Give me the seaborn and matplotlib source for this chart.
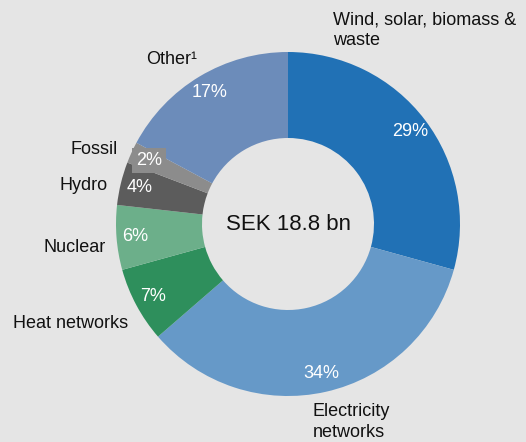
import matplotlib
matplotlib.use("Agg")
import matplotlib.pyplot as plt
import seaborn as sns

# data, clockwise from 12 o'clock
segments = ["Wind, solar, biomass &\nwaste", "Electricity\nnetworks", "Heat networks",
            "Nuclear", "Hydro", "Fossil", "Other\u00b9"]
shares = [29, 34, 7, 6, 4, 2, 17]
colors = ["#2171b5", "#6699c8", "#2e8f5c", "#6caf8a", "#5c5c5c", "#8c8c8c", "#6c8cba"]
total_label = "SEK 18.8 bn"

sns.set_theme(style="white")
plt.rcParams["font.family"] = ["Liberation Sans", "DejaVu Sans"]
bg = "#e5e5e5"

fig = plt.figure(figsize=(5.26, 4.42), dpi=100, facecolor=bg)
ax = fig.add_axes([0, 0, 1, 1])
ax.set_facecolor(bg)

# pie centre at pixel (288, 224), outer radius 172 px
cx, cy, R = 288, 224, 172
W, H = 526, 442

vals = iter(shares)
wedges, texts, pcts = ax.pie(
    shares, colors=colors, startangle=90, counterclock=False,
    radius=1.0, wedgeprops=dict(width=0.5, linewidth=0),
    autopct=lambda p: f"{next(vals)}%", pctdistance=0.89,
    textprops=dict(color="white", fontsize=13))

# fossil share label sits on a grey box
pcts[5].set_bbox(dict(facecolor=colors[5], edgecolor="none", pad=3))

ax.text(0, 0, total_label, ha="center", va="center", fontsize=16, color="#111111")

def px(x, y):
    return (x - cx) / R, (cy - y) / R

label_pos = {
    0: (px(333, 30), "left"),
    1: (px(313, 422), "left"),
    2: (px(128, 324), "right"),
    3: (px(106, 247), "right"),
    4: (px(108, 186), "right"),
    5: (px(118, 149), "right"),
    6: (px(197, 59), "right"),
}
for i, name in enumerate(segments):
    (x, y), ha = label_pos[i]
    ax.text(x, y, name, ha=ha, va="center", fontsize=13, color="#111111",
            linespacing=1.25)

ax.set_xlim(-cx / R, (W - cx) / R)
ax.set_ylim(-(H - cy) / R, cy / R)
ax.set_aspect("equal")
ax.axis("off")

fig.savefig("out.png", dpi=100, facecolor=bg)
